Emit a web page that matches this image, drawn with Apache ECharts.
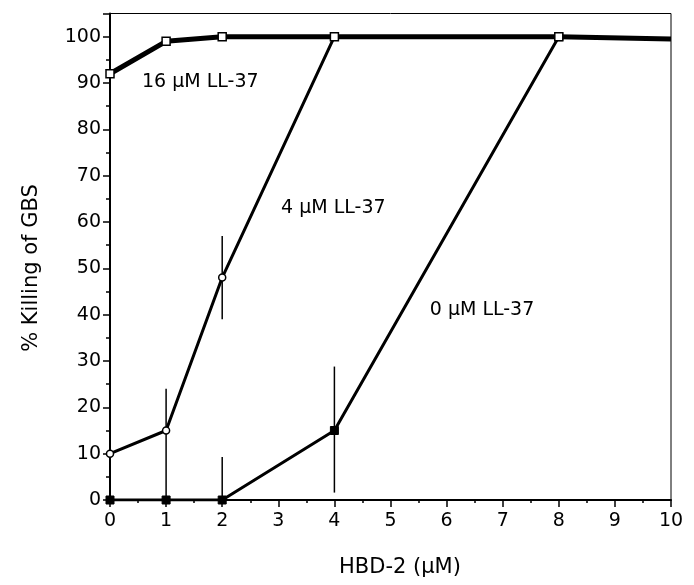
<!DOCTYPE html>
<html>
<head>
    <meta charset="utf-8">
    <title>HBD-2 / LL-37</title>
    <script src="https://cdn.jsdelivr.net/npm/echarts@6/dist/echarts.min.js"></script>
    <style>
        html, body { margin: 0; padding: 0; background: #fff; }
    </style>
</head>
<body>

<div id='line' style="width: 694px; height: 585px;"></div>
<script type="text/javascript">
    // HBD-2 concentration (uM)
    var dose16 = [0, 1, 2, 4, 8, 10];
    var kill16 = [92, 99, 100, 100, 100, 99.5];   // 16 uM LL-37

    var dose4 = [0, 1, 2, 4];
    var kill4 = [10, 15, 48, 100];                // 4 uM LL-37

    var dose0 = [0, 1, 2, 4, 8];
    var kill0 = [0, 0, 0, 15, 100];               // 0 uM LL-37

    // error bars: x, low, high
    var errX = [0, 1, 2, 2, 4];
    var errLow = [0, 0, 39, 0, 1.6];
    var errHigh = [20, 24, 57, 9.3, 28.8];

    // curve labels, anchored at the left edge of the text
    var noteText = ['16 \u03bcM LL-37', '4 \u03bcM LL-37', '0 \u03bcM LL-37'];
    var noteX = [0.57, 3.05, 5.7];
    var noteY = [90.3, 63.1, 40.9];

    var font = 'DejaVu Sans';

    function pairs(xs, ys) {
        var out = [];
        for (var i = 0; i < xs.length; i++) {
            out.push([xs[i], ys[i]]);
        }
        return out;
    }

    var errData = [];
    for (var i = 0; i < errX.length; i++) {
        errData.push([errX[i], errLow[i], errHigh[i]]);
    }

    var noteData = [];
    for (var i = 0; i < noteText.length; i++) {
        noteData.push([noteX[i], noteY[i], noteText[i]]);
    }

    var data16 = pairs(dose16, kill16);
    data16[data16.length - 1] = { value: data16[data16.length - 1], symbol: 'none' }; // line runs on to the edge

    var myLine = echarts.init(document.getElementById('line'), null, { renderer: 'canvas' });
    var option = {
        backgroundColor: '#fff',
        animation: false,
        grid: {
            left: 110,
            right: 23,
            top: 13.5,
            bottom: 85,
            show: true,
            borderColor: '#000',
            borderWidth: 1
        },
        xAxis: {
            type: 'value',
            min: 0,
            max: 10,
            interval: 1,
            axisLine: { show: true, onZero: false, lineStyle: { color: '#000', width: 2 } },
            axisTick: { show: true, inside: false, length: 7, lineStyle: { color: '#000', width: 1.5 } },
            minorTick: { show: true, splitNumber: 2, length: 3, lineStyle: { color: '#000', width: 1.5 } },
            splitLine: { show: false },
            axisLabel: { color: '#000', fontFamily: font, fontSize: 19, margin: 12 }
        },
        yAxis: {
            type: 'value',
            min: 0,
            max: 105,
            interval: 10,
            axisLine: { show: true, onZero: false, lineStyle: { color: '#000', width: 2 } },
            axisTick: { show: true, inside: false, length: 7, lineStyle: { color: '#000', width: 1.5 } },
            minorTick: { show: true, splitNumber: 2, length: 4, lineStyle: { color: '#000', width: 1.5 } },
            splitLine: { show: false },
            axisLabel: {
                color: '#000', fontFamily: font, fontSize: 19, margin: 9,
                formatter: function (v) { return v % 10 === 0 ? v : ''; }
            }
        },
        graphic: [
            {
                type: 'text', x: 32, y: 268, rotation: Math.PI / 2,
                style: { text: '% Killing of GBS', fill: '#000', font: '21px "DejaVu Sans"', align: 'center', verticalAlign: 'middle' }
            },
            {
                type: 'text', x: 400, y: 568,
                style: { text: 'HBD-2 (\u03bcM)', fill: '#000', font: '21px "DejaVu Sans"', align: 'center', verticalAlign: 'middle' }
            }
        ],
        series: [
            {
                name: 'err',
                type: 'custom',
                data: errData,
                z: 1,
                renderItem: function (params, api) {
                    var lo = api.coord([api.value(0), api.value(1)]);
                    var hi = api.coord([api.value(0), api.value(2)]);
                    return {
                        type: 'line',
                        shape: { x1: lo[0], y1: lo[1], x2: hi[0], y2: hi[1] },
                        style: { stroke: '#000', lineWidth: 1.5 }
                    };
                }
            },
            {
                name: '0 uM LL-37',
                type: 'line',
                data: pairs(dose0, kill0),
                z: 2,
                symbol: 'rect',
                symbolSize: 8,
                showAllSymbol: true,
                lineStyle: { color: '#000', width: 3 },
                itemStyle: { color: '#000', borderColor: '#000', borderWidth: 1 }
            },
            {
                name: '4 uM LL-37',
                type: 'line',
                data: pairs(dose4, kill4),
                z: 3,
                symbol: 'circle',
                symbolSize: 7,
                showAllSymbol: true,
                lineStyle: { color: '#000', width: 3 },
                itemStyle: { color: '#fff', borderColor: '#000', borderWidth: 1.5 }
            },
            {
                name: '16 uM LL-37',
                type: 'line',
                data: data16,
                z: 4,
                symbol: 'rect',
                symbolSize: 8,
                showAllSymbol: true,
                lineStyle: { color: '#000', width: 5 },
                itemStyle: { color: '#fff', borderColor: '#000', borderWidth: 1.5 }
            },
            {
                name: 'notes',
                type: 'scatter',
                data: noteData,
                symbolSize: 0,
                z: 5,
                itemStyle: { opacity: 1 },
                label: {
                    show: true,
                    position: 'right',
                    distance: 0,
                    color: '#000',
                    fontFamily: font,
                    fontSize: 19,
                    formatter: function (p) { return p.value[2]; }
                }
            }
        ]
    };
    myLine.setOption(option);
</script>
</body>
</html>
